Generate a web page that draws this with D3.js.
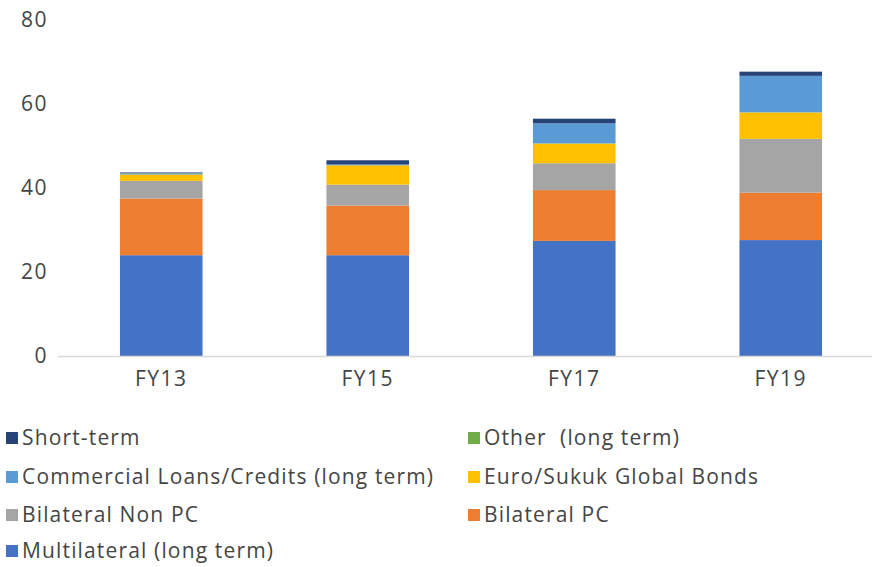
<!DOCTYPE html>
<html><head><meta charset="utf-8">
<script src="https://cdn.jsdelivr.net/npm/d3@7"></script>
<style>body{margin:0;background:#fff}svg{display:block}</style>
</head><body><svg id="c" width="872" height="567"></svg>
<script>
const categories = ["FY13","FY15","FY17","FY19"];
const multilateral = [24.0, 24.0, 27.4, 27.6];
const bilateralPC = [13.5, 11.8, 12.1, 11.3];
const bilateralNonPC = [4.2, 5.0, 6.4, 12.8];
const euroSukuk = [1.5, 4.6, 4.7, 6.3];
const commercial = [0.2, 0.2, 4.8, 8.7];
const other = [0.1, 0.0, 0.0, 0.0];
const shortTerm = [0.2, 1.0, 1.1, 1.0];
const yTicks = [0,20,40,60,80];

const series = [
  {name:"Multilateral (long term)", values:multilateral, color:"#4472C4"},
  {name:"Bilateral PC", values:bilateralPC, color:"#ED7D31"},
  {name:"Bilateral Non PC", values:bilateralNonPC, color:"#A5A5A5"},
  {name:"Euro/Sukuk Global Bonds", values:euroSukuk, color:"#FFC000"},
  {name:"Commercial Loans/Credits (long term)", values:commercial, color:"#5B9BD5"},
  {name:"Other  (long term)", values:other, color:"#70AD47"},
  {name:"Short-term", values:shortTerm, color:"#264478"}
];
const legendOrder = ["Short-term","Other  (long term)","Commercial Loans/Credits (long term)","Euro/Sukuk Global Bonds","Bilateral Non PC","Bilateral PC","Multilateral (long term)"];

const font = "'Open Sans', Lato, sans-serif";
const svg = d3.select("#c");
const x = d3.scaleBand().domain(categories).range([58, 884]).paddingInner(0.6).paddingOuter(0.3);
const y = d3.scaleLinear().domain([0,80]).range([356, 20]);

const rows = categories.map((c,i)=>{const o={cat:c}; series.forEach(s=>o[s.name]=s.values[i]); return o;});
const stacked = d3.stack().keys(series.map(s=>s.name))(rows);

svg.append("g").selectAll("g").data(stacked).join("g")
  .attr("fill",(d,i)=>series[i].color)
  .selectAll("rect").data(d=>d).join("rect")
  .attr("x",d=>x(d.data.cat)).attr("width",x.bandwidth())
  .attr("y",d=>y(d[1])).attr("height",d=>Math.max(0,y(d[0])-y(d[1])));

svg.append("line").attr("x1",58).attr("x2",872).attr("y1",y(0)+0.5).attr("y2",y(0)+0.5)
  .attr("stroke","#d9d9d9").attr("stroke-width",1.5);

const yAxis = d3.axisLeft(y).tickValues(yTicks).tickSize(0).tickPadding(0);
const ga = svg.append("g").attr("transform","translate(48,0)").call(yAxis);
ga.select(".domain").remove();
ga.selectAll("text").attr("font-family",font).attr("font-size",21).attr("fill","#454545")
  .attr("letter-spacing",1.5);

const xAxis = d3.axisBottom(x).tickSize(0).tickPadding(0);
const gx = svg.append("g").attr("transform","translate(0,371)").call(xAxis);
gx.select(".domain").remove();
gx.selectAll("text").attr("font-family",font).attr("font-size",21).attr("fill","#454545")
  .attr("letter-spacing",1.5);

const colorOf = Object.fromEntries(series.map(s=>[s.name,s.color]));
const lg = svg.append("g").selectAll("g").data(legendOrder).join("g")
  .attr("transform",(d,i)=>`translate(${i%2===0?6:468},${[438,477,515,551][Math.floor(i/2)]})`);
lg.append("rect").attr("x",0).attr("y",-6).attr("width",12).attr("height",12).attr("fill",d=>colorOf[d]);
lg.append("text").attr("x",16).attr("y",0).attr("dy","0.35em").text(d=>d)
  .style("white-space","pre").attr("letter-spacing",1.15)
  .attr("font-family",font).attr("font-size",21).attr("fill","#454545");
</script></body></html>
